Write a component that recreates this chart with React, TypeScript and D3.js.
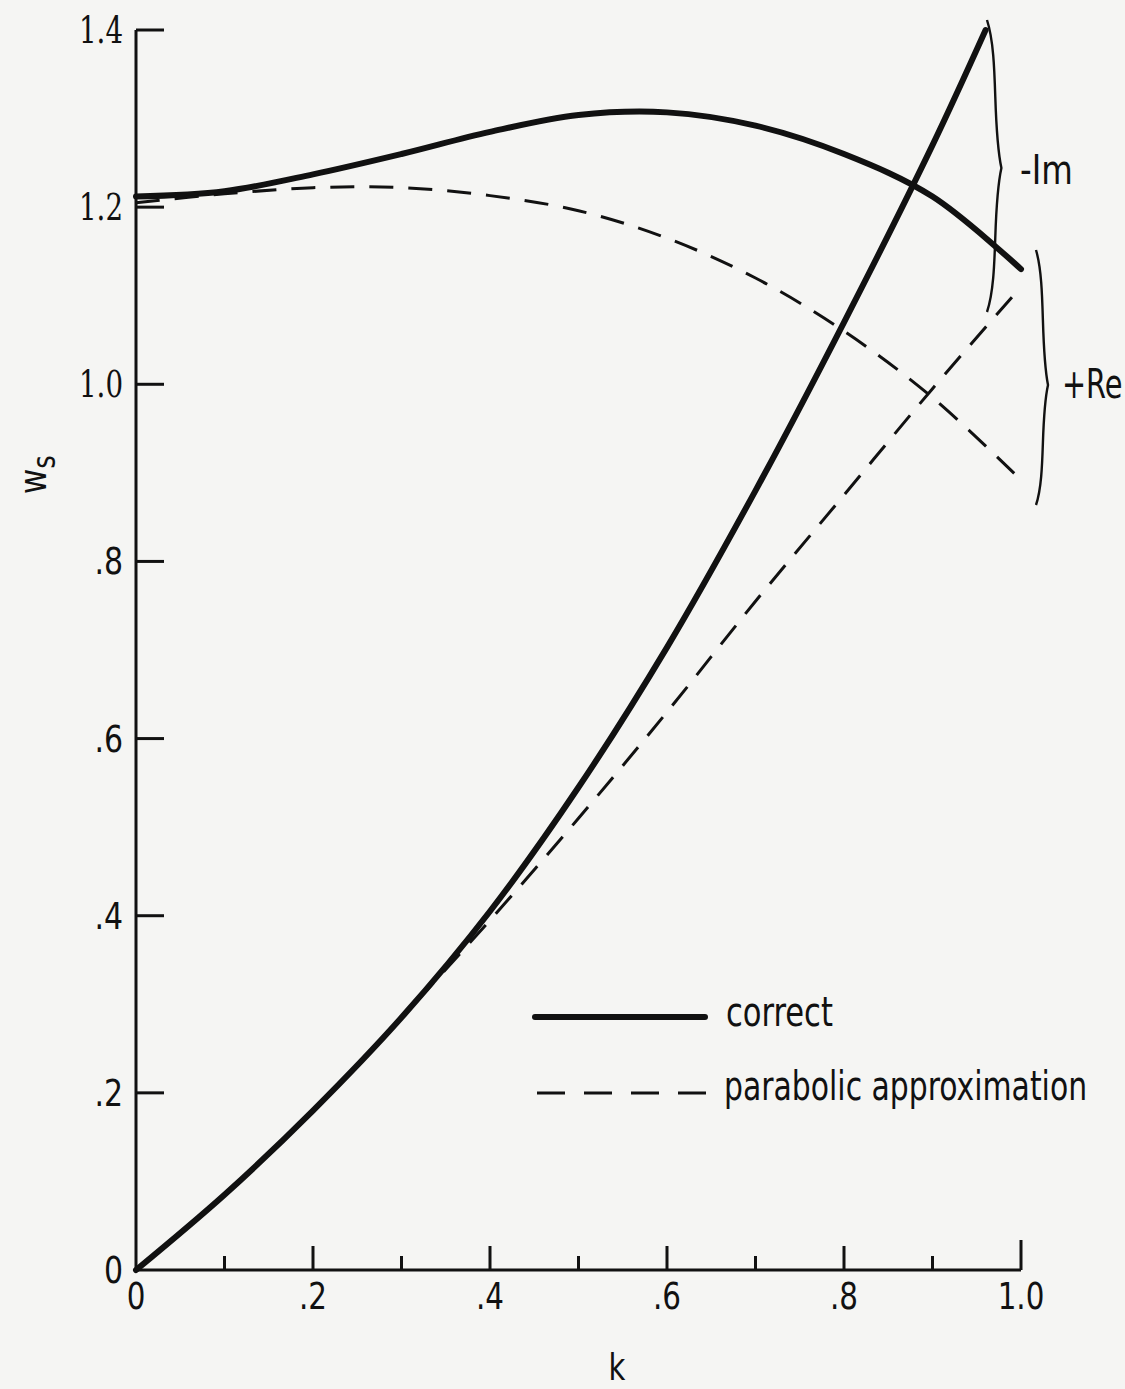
import React from "react";
import * as d3 from "d3";

const kGrid = [0, 0.1, 0.2, 0.3, 0.4, 0.5, 0.6, 0.7, 0.8, 0.9, 1.0];
const correctIm = [1.212, 1.218, 1.237, 1.26, 1.285, 1.304, 1.307, 1.292, 1.26, 1.212, 1.13];
const parabolicIm = [1.205, 1.215, 1.222, 1.222, 1.213, 1.196, 1.165, 1.12, 1.06, 0.985, 0.892];
const correctReK = [0, 0.1, 0.2, 0.3, 0.4, 0.5, 0.6, 0.7, 0.8, 0.9, 0.96];
const correctRe = [0, 0.085, 0.18, 0.285, 0.405, 0.545, 0.703, 0.88, 1.07, 1.27, 1.4];
const parabolicRe = [0, 0.085, 0.18, 0.285, 0.395, 0.51, 0.63, 0.755, 0.875, 0.995, 1.11];

const yTicks = [0, 0.2, 0.4, 0.6, 0.8, 1.0, 1.2, 1.4];
const yTickLabels = ["0", ".2", ".4", ".6", ".8", "1.0", "1.2", "1.4"];
const xMajor = [0.2, 0.4, 0.6, 0.8];
const xMinor = [0.1, 0.3, 0.5, 0.7, 0.9];
const xTickLabels = ["0", ".2", ".4", ".6", ".8", "1.0"];
const xLabelVals = [0, 0.2, 0.4, 0.6, 0.8, 1.0];

const W = 1125;
const H = 1389;
const INK = "#111";
const SANS = "'DejaVu Sans Condensed', 'DejaVu Sans', sans-serif";
const SERIF = "'DejaVu Serif Condensed', 'DejaVu Serif', serif";

function CText(props: {
  x: number;
  y: number;
  sx?: number;
  anchor?: string;
  font?: string;
  size: number;
  children: React.ReactNode;
}) {
  const { x, y, sx = 1, anchor = "start", font = SANS, size, children } = props;
  return (
    <g transform={`translate(${x},${y}) scale(${sx},1)`}>
      <text x={0} y={0} textAnchor={anchor} fontFamily={font} fontSize={size} fill={INK}>
        {children}
      </text>
    </g>
  );
}

export default function App() {
  const x = d3.scaleLinear().domain([0, 1]).range([136, 1021]);
  const y = d3.scaleLinear().domain([0, 1.4]).range([1270, 30]);

  const line = d3
    .line<[number, number]>()
    .x((d) => x(d[0]))
    .y((d) => y(d[1]))
    .curve(d3.curveCatmullRom.alpha(0.5));

  const zip = (ks: number[], vs: number[]) => ks.map((k, i) => [k, vs[i]] as [number, number]);

  const brace = (x0: number, y1: number, yt: number, y2: number, d: number) =>
    `M${x0},${y1} C${x0 + d},${y1 + (yt - y1) * 0.25} ${x0 + d * 0.4},${yt - (yt - y1) * 0.3} ${x0 + d * 1.2},${yt}` +
    ` C${x0 + d * 0.4},${yt + (y2 - yt) * 0.3} ${x0 + d},${y2 - (y2 - yt) * 0.25} ${x0},${y2}`;

  return (
    <svg
      width={W}
      height={H}
      viewBox={`0 0 ${W} ${H}`}
      style={{ position: "absolute", left: 0, top: 0, background: "#f5f5f3" }}
    >
      <rect x={0} y={0} width={W} height={H} fill="#f5f5f3" />
      {/* axes */}
      <line x1={x(0)} y1={y(0)} x2={x(1)} y2={y(0)} stroke={INK} strokeWidth={3} />
      <line x1={x(0)} y1={y(0)} x2={x(0)} y2={y(1.4)} stroke={INK} strokeWidth={3} />
      {yTicks.slice(1).map((v) => (
        <line key={"yt" + v} x1={x(0)} x2={x(0) + 28} y1={y(v)} y2={y(v)} stroke={INK} strokeWidth={3} />
      ))}
      {xMajor.map((v) => (
        <line key={"xM" + v} x1={x(v)} x2={x(v)} y1={y(0)} y2={y(0) - 24} stroke={INK} strokeWidth={3} />
      ))}
      {xMinor.map((v) => (
        <line key={"xm" + v} x1={x(v)} x2={x(v)} y1={y(0)} y2={y(0) - 14} stroke={INK} strokeWidth={3} />
      ))}
      <line x1={x(1)} x2={x(1)} y1={y(0)} y2={y(0) - 30} stroke={INK} strokeWidth={3} />

      {yTicks.map((v, i) => (
        <CText
          key={"yl" + v}
          x={x(0) - 13}
          y={y(v) + 13}
          anchor="end"
          font={i >= 5 ? SERIF : SANS}
          size={i >= 5 ? 38 : 37}
          sx={i >= 5 ? 0.81 : 0.9}
        >
          {yTickLabels[i]}
        </CText>
      ))}
      {xLabelVals.map((v, i) => (
        <CText key={"xl" + v} x={x(v)} y={1309} anchor="middle" size={38} sx={0.86}>
          {xTickLabels[i]}
        </CText>
      ))}
      <CText x={617} y={1380} anchor="middle" size={38} sx={0.85}>
        k
      </CText>
      <g transform="translate(46,494) rotate(-90) scale(0.9,1)">
        <text x={0} y={0} fontFamily={SANS} fontSize={38} fill={INK}>
          w<tspan fontSize={32} dy={9}>s</tspan>
        </text>
      </g>

      {/* curves */}
      <path d={line(zip(kGrid, correctIm)) || ""} fill="none" stroke={INK} strokeWidth={6} strokeLinecap="round" />
      <path d={line(zip(correctReK, correctRe)) || ""} fill="none" stroke={INK} strokeWidth={6} strokeLinecap="round" />
      <path d={line(zip(kGrid, parabolicIm)) || ""} fill="none" stroke={INK} strokeWidth={3} strokeDasharray="24 15" />
      <path d={line(zip(kGrid, parabolicRe)) || ""} fill="none" stroke={INK} strokeWidth={3} strokeDasharray="24 15" />

      {/* braces */}
      <path d={brace(987, 20, 168, 312, 12)} fill="none" stroke={INK} strokeWidth={2.4} />
      <path d={brace(1036, 250, 385, 505, 10)} fill="none" stroke={INK} strokeWidth={2.4} />
      <CText x={1020} y={184} size={40} sx={0.9}>
        -Im
      </CText>
      <CText x={1062} y={398} size={40} sx={0.8}>
        +Re
      </CText>

      {/* legend */}
      <line x1={535} x2={705} y1={1017} y2={1017} stroke={INK} strokeWidth={6} strokeLinecap="round" />
      <CText x={726} y={1026} size={40} sx={0.85}>
        correct
      </CText>
      <line x1={537} x2={724} y1={1093} y2={1093} stroke={INK} strokeWidth={3} strokeDasharray="28 19" />
      <CText x={724} y={1100} size={40} sx={0.83}>
        parabolic approximation
      </CText>
    </svg>
  );
}
